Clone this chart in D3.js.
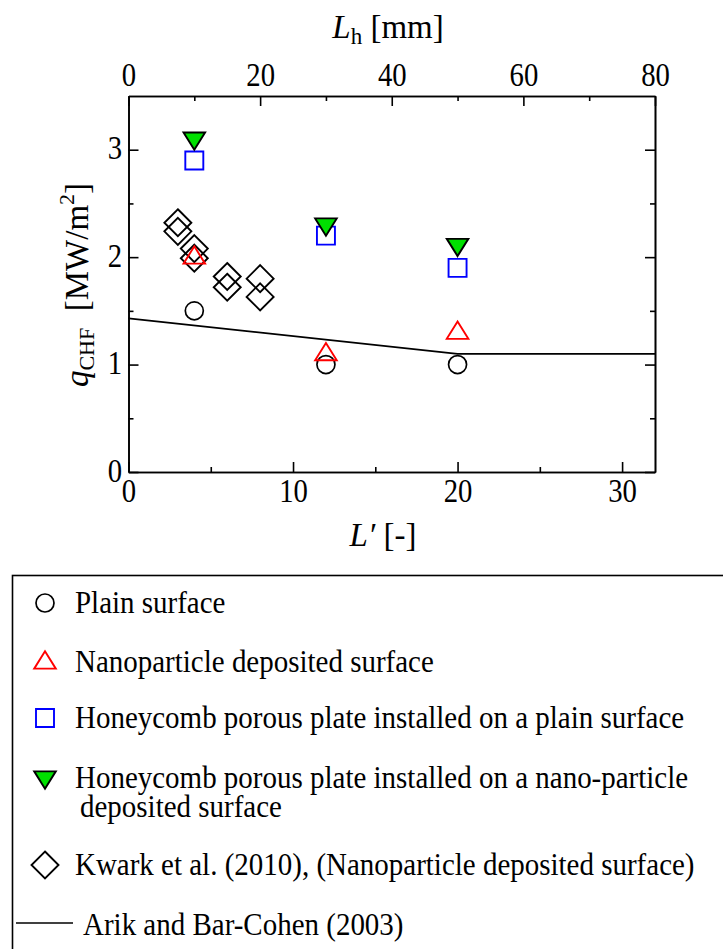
<!DOCTYPE html>
<html>
<head>
<meta charset="utf-8">
<script src="https://cdn.jsdelivr.net/npm/d3@7"></script>
<style>
  html, body { margin: 0; padding: 0; background: #fff; }
  svg { display: block; font-family: "Liberation Serif", "Times New Roman", serif; }
</style>
</head>
<body>
<svg id="chart" width="723" height="949"></svg>
<script>
// Dimensionless length L' for the three test sections
const lengthsLp = [4, 12, 20];
// Critical heat flux, MW/m^2
const qPlain = [1.5, 1.0, 1.0];
const qNano = [2.02, 1.12, 1.32];
const qHoneyPlain = [2.9, 2.2, 1.9];
const qHoneyNano = [3.08, 2.28, 2.09];
// Kwark et al. (2010) data
const kwarkLp = [3, 3, 4, 4, 6, 6, 8, 8];
const kwarkQ = [2.32, 2.24, 2.08, 1.99, 1.82, 1.72, 1.80, 1.63];
// Arik and Bar-Cohen (2003) correlation
const arikLp = [0, 20, 32];
const arikQ = [1.43, 1.10, 1.10];
// Axis ticks
const xTicks = [0, 10, 20, 30];
const xMinor = [5, 15, 25];
const topTicks = [0, 20, 40, 60, 80];
const topMinor = [10, 30, 50, 70];
const yTicks = [0, 1, 2, 3];
const yMinor = [0.5, 1.5, 2.5];

const legendLabels = [
  "Plain surface",
  "Nanoparticle deposited surface",
  "Honeycomb porous plate installed on a plain surface",
  "Honeycomb porous plate installed on a nano-particle",
  "Kwark et al. (2010), (Nanoparticle deposited surface)",
  "Arik and Bar-Cohen (2003)"
];

const svg = d3.select("#chart");
svg.append("rect").attr("width", 723).attr("height", 949).attr("fill", "#fff");

const L = 128.5, R = 655, T = 96, B = 472;
const x = d3.scaleLinear().domain([0, 32]).range([L, R]);
const xTop = d3.scaleLinear().domain([0, 80]).range([L, R]);
const y = d3.scaleLinear().domain([0, 3.5]).range([B, T]);

const tickFont = 33;
const squeeze = 0.87; // narrow tick numerals
const axes = svg.append("g");

function styleAxis(g) {
  g.select(".domain").attr("stroke", "#000").attr("stroke-width", 1.6);
  g.selectAll(".tick line").attr("stroke", "#000").attr("stroke-width", 1.6);
  g.selectAll(".tick text").attr("fill", "#000").attr("font-size", tickFont)
    .attr("font-family", "Liberation Serif, Times New Roman, serif");
}

// Bottom axis
axes.append("g").attr("transform", `translate(0,${B})`)
  .call(d3.axisBottom(x).tickValues(xTicks).tickSizeInner(-10).tickSizeOuter(0).tickFormat(d3.format("d")))
  .call(styleAxis)
  .call(g => g.selectAll(".tick text").attr("y", 29.5).attr("dy", null)
    .attr("transform", `scale(${squeeze},1)`));
axes.append("g").attr("transform", `translate(0,${B})`)
  .call(d3.axisBottom(x).tickValues(xMinor).tickSizeInner(-5).tickSizeOuter(0).tickFormat(""))
  .call(styleAxis);
// Top axis (L_h in mm)
axes.append("g").attr("transform", `translate(0,${T})`)
  .call(d3.axisTop(xTop).tickValues(topTicks).tickSizeInner(-10).tickSizeOuter(0).tickFormat(d3.format("d")))
  .call(styleAxis)
  .call(g => g.selectAll(".tick text").attr("y", -10).attr("dy", null)
    .attr("transform", `scale(${squeeze},1)`));
axes.append("g").attr("transform", `translate(0,${T})`)
  .call(d3.axisTop(xTop).tickValues(topMinor).tickSizeInner(-5).tickSizeOuter(0).tickFormat(""))
  .call(styleAxis);
// Left axis
axes.append("g").attr("transform", `translate(${L},0)`)
  .call(d3.axisLeft(y).tickValues(yTicks).tickSizeInner(-10).tickSizeOuter(0).tickFormat(d3.format("d")))
  .call(styleAxis)
  .call(g => g.selectAll(".tick text").attr("x", -6.5 / squeeze).attr("dy", null).attr("y", 9)
    .attr("transform", `scale(${squeeze},1)`));
axes.append("g").attr("transform", `translate(${L},0)`)
  .call(d3.axisLeft(y).tickValues(yMinor).tickSizeInner(-5).tickSizeOuter(0).tickFormat(""))
  .call(styleAxis);
// Right axis (mirrored ticks)
axes.append("g").attr("transform", `translate(${R},0)`)
  .call(d3.axisRight(y).tickValues(yTicks).tickSizeInner(-10).tickSizeOuter(0).tickFormat(""))
  .call(styleAxis);
axes.append("g").attr("transform", `translate(${R},0)`)
  .call(d3.axisRight(y).tickValues(yMinor).tickSizeInner(-5).tickSizeOuter(0).tickFormat(""))
  .call(styleAxis);

// Axis titles
const topTitle = svg.append("text").attr("x", 388).attr("y", 38).attr("text-anchor", "middle")
  .attr("font-size", 33);
topTitle.append("tspan").attr("font-style", "italic").text("L");
topTitle.append("tspan").attr("font-size", 23).attr("dy", 6).text("h");
topTitle.append("tspan").attr("dy", -6).text(" [mm]");

const bottomTitle = svg.append("text").attr("x", 383).attr("y", 546).attr("text-anchor", "middle")
  .attr("font-size", 33);
bottomTitle.append("tspan").attr("font-style", "italic").text("L\u2032");
bottomTitle.append("tspan").text(" [-]");

const yTitle = svg.append("text").attr("transform", "translate(88,285) rotate(-90)")
  .attr("text-anchor", "middle").attr("font-size", 33);
yTitle.append("tspan").attr("font-style", "italic").text("q");
yTitle.append("tspan").attr("font-size", 22).attr("dy", 6).text("CHF");
yTitle.append("tspan").attr("dy", -6).text("\u2002[MW/m");
yTitle.append("tspan").attr("font-size", 22).attr("dy", -14).text("2");
yTitle.append("tspan").attr("dy", 14).text("]");

// Marker shapes, centred on their bounding box
const shapes = {
  circle: s => { const r = s / 2; return `M${-r},0A${r},${r} 0 1,0 ${r},0A${r},${r} 0 1,0 ${-r},0Z`; },
  square: s => { const h = s / 2; return `M${-h},${-h}H${h}V${h}H${-h}Z`; },
  triUp: s => { const w = s * 0.6, h = s * 0.48; return `M0,${-h}L${w},${h}L${-w},${h}Z`; },
  triDown: s => { const w = s * 0.6, h = s * 0.48; return `M0,${h}L${w},${-h}L${-w},${-h}Z`; },
  diamond: s => { const h = s / 2; return `M0,${-h}L${h},0L0,${h}L${-h},0Z`; }
};

const series = [
  { xs: kwarkLp, ys: kwarkQ, shape: "diamond", size: 27, stroke: "#000", fill: "none", sw: 1.9 },
  { xs: lengthsLp, ys: qPlain, shape: "circle", size: 18, stroke: "#000", fill: "none", sw: 1.7 },
  { xs: lengthsLp, ys: qNano, shape: "triUp", size: 18, stroke: "#ff0000", fill: "none", sw: 1.9 },
  { xs: lengthsLp, ys: qHoneyPlain, shape: "square", size: 18, stroke: "#0000ff", fill: "none", sw: 1.9 },
  { xs: lengthsLp, ys: qHoneyNano, shape: "triDown", size: 18, stroke: "#000", fill: "#00e000", sw: 1.9 }
];

// Correlation line
const line = d3.line().x(d => x(d[0])).y(d => y(d[1]));
svg.append("path").datum(arikLp.map((v, i) => [v, arikQ[i]]))
  .attr("d", line).attr("fill", "none").attr("stroke", "#000").attr("stroke-width", 1.6);

const marks = svg.append("g");
series.forEach(s => {
  marks.append("g").selectAll("path")
    .data(s.xs.map((v, i) => [v, s.ys[i]]))
    .join("path")
    .attr("transform", d => `translate(${x(d[0])},${y(d[1])})`)
    .attr("d", shapes[s.shape](s.size))
    .attr("fill", s.fill).attr("stroke", s.stroke).attr("stroke-width", s.sw)
    .attr("stroke-linejoin", "miter");
});

// Legend
const leg = svg.append("g");
leg.append("rect").attr("x", 12.5).attr("y", 575.5).attr("width", 800).attr("height", 500)
  .attr("fill", "none").attr("stroke", "#000").attr("stroke-width", 1.6);

const legFont = 31;
const legSqueeze = 0.935;
function legText(tx, ty, str) {
  leg.append("text").attr("transform", `translate(${tx},${ty}) scale(${legSqueeze},1)`)
    .attr("font-size", legFont).text(str);
}
const legRows = [
  { s: series[1], my: 603, ty: 613, size: 18 },
  { s: series[2], my: 660, ty: 672, size: 18 },
  { s: series[3], my: 718, ty: 728, size: 18 },
  { s: series[4], my: 780, ty: 788, size: 18 },
  { s: series[0], my: 865, ty: 875, size: 27 }
];
legRows.forEach((r, i) => {
  leg.append("path").attr("transform", `translate(45,${r.my})`)
    .attr("d", shapes[r.s.shape](r.size))
    .attr("fill", r.s.fill).attr("stroke", r.s.stroke).attr("stroke-width", r.s.sw);
  legText(75, r.ty, legendLabels[i]);
});
legText(80, 817, "deposited surface");
leg.append("line").attr("x1", 16).attr("x2", 73).attr("y1", 923).attr("y2", 923)
  .attr("stroke", "#000").attr("stroke-width", 1.6);
legText(83, 935, legendLabels[5]);
</script>
</body>
</html>
